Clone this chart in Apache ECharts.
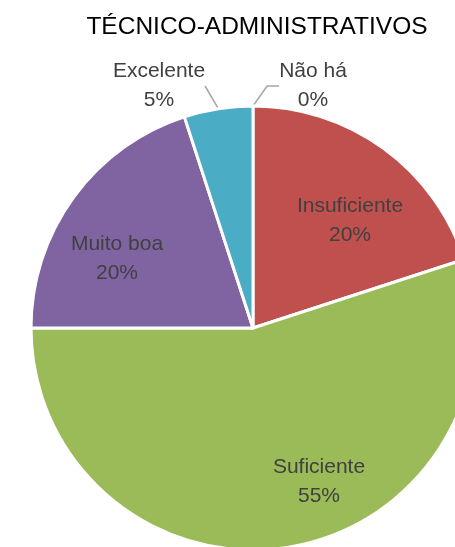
<!DOCTYPE html>
<html>
<head>
<meta charset="utf-8">
<script src="https://cdn.jsdelivr.net/npm/echarts@6/dist/echarts.min.js"></script>
<style>html,body{margin:0;padding:0;background:#fff}#c{width:455px;height:547px}</style>
</head>
<body>
<div id="c"></div>
<script>
const categories = ['Não há', 'Insuficiente', 'Suficiente', 'Muito boa', 'Excelente'];
const values = [0, 4, 11, 4, 1];
const percentLabels = ['0%', '20%', '55%', '20%', '5%'];
const colors = ['#F79646', '#C0504D', '#9BBB59', '#8064A2', '#4BACC6'];
const outside = [true, false, false, false, true];
const labelPos = [[313, 86], [350, 221], [319, 482], [117, 259], [159, 86]];
const secondLeg = [12, 0, 0, 0, 0];

const chart = echarts.init(document.getElementById('c'));
chart.setOption({
  animation: false,
  title: {
    text: 'TÉCNICO-ADMINISTRATIVOS',
    left: 252, top: 10, textAlign: 'center',
    textStyle: {fontFamily: 'Liberation Sans', fontSize: 24.5, fontWeight: 'normal', color: '#000'}
  },
  series: [{
    type: 'pie',
    center: [253, 328],
    radius: 222,
    startAngle: 90,
    clockwise: true,
    avoidLabelOverlap: false,
    stillShowZeroSum: true,
    itemStyle: {borderColor: '#fff', borderWidth: 3},
    label: {
      fontFamily: 'Liberation Sans', fontSize: 21, color: '#404040', lineHeight: 29,
      formatter: p => p.name + '\n' + percentLabels[p.dataIndex]
    },
    labelLayout: p => ({x: labelPos[p.dataIndex][0], y: labelPos[p.dataIndex][1], align: 'center', verticalAlign: 'middle'}),
    data: categories.map((c, i) => ({
      name: c, value: values[i],
      itemStyle: {color: colors[i]},
      label: {position: outside[i] ? 'outside' : 'inside'},
      labelLine: {show: outside[i], length: 10, length2: secondLeg[i], lineStyle: {color: '#A6A6A6', width: 1.5}}
    }))
  }]
});
</script>
</body>
</html>
